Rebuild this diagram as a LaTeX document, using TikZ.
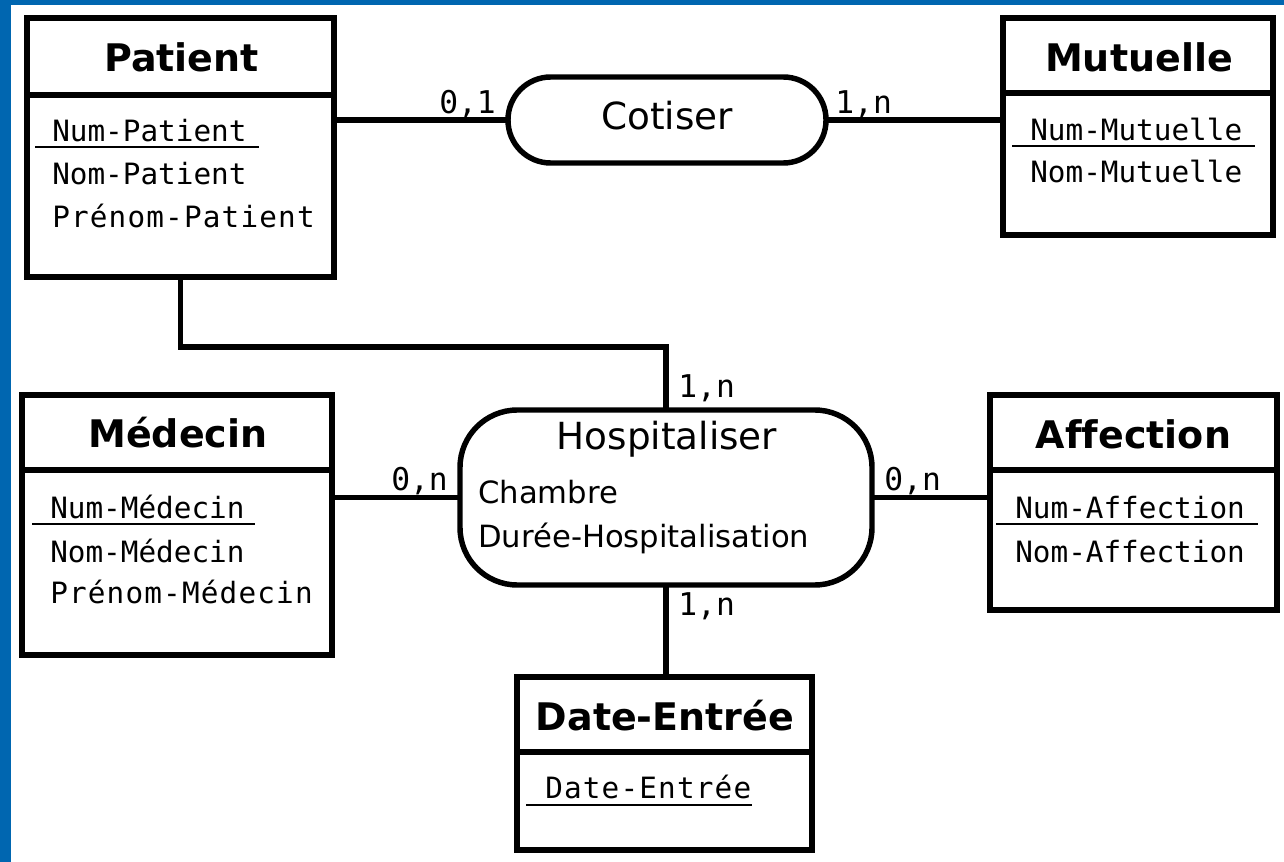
\documentclass[tikz,border=0pt]{standalone}
\usepackage{fontspec}
\setmainfont[Ligatures=NoCommon]{DejaVu Sans}
\newfontfamily\attrfont{DejaVu Sans Mono}
\newfontfamily\attrwidefont[LetterSpace=4]{DejaVu Sans Mono}
\definecolor{frameblue}{RGB}{0,102,176}
\begin{document}
\begin{tikzpicture}[x=0.75pt, y=-0.75pt,
  entity/.style={draw, line width=4.1pt, fill=white, inner sep=0pt, outer sep=0pt},
  relation/.style={draw, line width=4.1pt, fill=white, inner sep=0pt, outer sep=0pt},
  divider/.style={line width=4.1pt},
  link/.style={line width=4.1pt},
  uline/.style={line width=1.5pt},
  title/.style={font=\fontsize{28.5pt}{34pt}\selectfont\bfseries, anchor=base, inner sep=0pt},
  attr/.style={font=\attrfont\fontsize{22pt}{27pt}\selectfont, anchor=base west, inner sep=0pt},
  attrwide/.style={font=\attrwidefont\fontsize{22pt}{27pt}\selectfont, anchor=base west, inner sep=0pt},
  card/.style={font=\attrfont\fontsize{23.5pt}{28pt}\selectfont, anchor=base west, inner sep=0pt},
  rname/.style={font=\fontsize{28pt}{33pt}\selectfont, anchor=base, inner sep=0pt},
  rattr/.style={font=\fontsize{23pt}{28pt}\selectfont, anchor=base west, inner sep=0pt}
]
% page and blue frame
\useasboundingbox (0,0) rectangle (1284,862);
\fill[white] (0,0) rectangle (1284,862);
\fill[frameblue] (0,0) rectangle (11,862);
\fill[frameblue] (0,0) rectangle (1284,5);

% ---- entities ----
\node[entity, minimum width=230.25pt, minimum height=194.25pt] (pat) at (180.5,147.5) {};
\node[entity, minimum width=202.5pt, minimum height=162.75pt] (mut) at (1138,126.5) {};
\node[entity, minimum width=232.5pt, minimum height=195pt] (med) at (177,525) {};
\node[entity, minimum width=215.25pt, minimum height=161.25pt] (aff) at (1133.5,502.5) {};
\node[entity, minimum width=221.25pt, minimum height=129.75pt] (dat) at (664.5,763.5) {};

% header dividers
\draw[divider] (pat.west |- 0,95) -- (pat.east |- 0,95);
\draw[divider] (mut.west |- 0,93) -- (mut.east |- 0,93);
\draw[divider] (med.west |- 0,470) -- (med.east |- 0,470);
\draw[divider] (aff.west |- 0,470) -- (aff.east |- 0,470);
\draw[divider] (dat.west |- 0,752) -- (dat.east |- 0,752);

% titles
\node[title] (patT) at (181.5,72) {Patient};
\node[title] (mutT) at (1139,72) {Mutuelle};
\node[title] (medT) at (178,447) {Médecin};
\node[title] (affT) at (1133.5,448) {Affection};
\node[title] (datT) at (665,730) {Date-Entrée};

% attributes
\node[attr] (pat1) at (52,142) {Num-Patient};
\node[attr] (pat2) at (52,185) {Nom-Patient};
\node[attrwide] (pat3) at (52,228) {Prénom-Patient};
\draw[uline] (35,147) -- (259,147);

\node[attr] (mut1) at (1030,141) {Num-Mutuelle};
\node[attr] (mut2) at (1030,183) {Nom-Mutuelle};
\draw[uline] (1012,146) -- (1255,146);

\node[attr] (med1) at (50,518) {Num-Médecin};
\node[attr] (med2) at (50,562) {Nom-Médecin};
\node[attrwide] (med3) at (50,603) {Prénom-Médecin};
\draw[uline] (32,524) -- (255,524);

\node[attr] (aff1) at (1015,518) {Num-Affection};
\node[attr] (aff2) at (1015,562) {Nom-Affection};
\draw[uline] (996,524) -- (1258,524);

\node[attrwide] (dat1) at (545,798) {Date-Entrée};
\draw[uline] (526,805) -- (752,805);

% ---- relations ----
\node[relation, rounded corners=32pt, minimum width=238.5pt, minimum height=64.5pt] (cot) at (667,120) {};
\node[rname] (cotT) at (667,130) {Cotiser};

\node[relation, rounded corners=43pt, minimum width=309pt, minimum height=131.25pt] (hos) at (666,497.5) {};
\node[rname] (hosT) at (667,450) {Hospitaliser};
\node[rattr] (hos1) at (478,503) {Chambre};
\node[rattr] (hos2) at (478,547) {Durée-Hospitalisation};

% ---- links ----
\draw[link] (pat.east |- cot.west) -- (cot.west);
\draw[link] (cot.east) -- (mut.west |- cot.east);
\draw[link] (pat.south) -- ++(0,70) -| (hos.north);
\draw[link] (med.east |- hos.west) -- (hos.west);
\draw[link] (hos.east) -- (aff.west |- hos.east);
\draw[link] (hos.south) -- (hos.south |- dat.north);

% cardinalities
\node[card] (c1) at (439,114) {0,1};
\node[card] (c2) at (835,114) {1,n};
\node[card] (c3) at (678,398) {1,n};
\node[card] (c4) at (391,490) {0,n};
\node[card] (c5) at (884,490) {0,n};
\node[card] (c6) at (678,615) {1,n};
\end{tikzpicture}
\end{document}
